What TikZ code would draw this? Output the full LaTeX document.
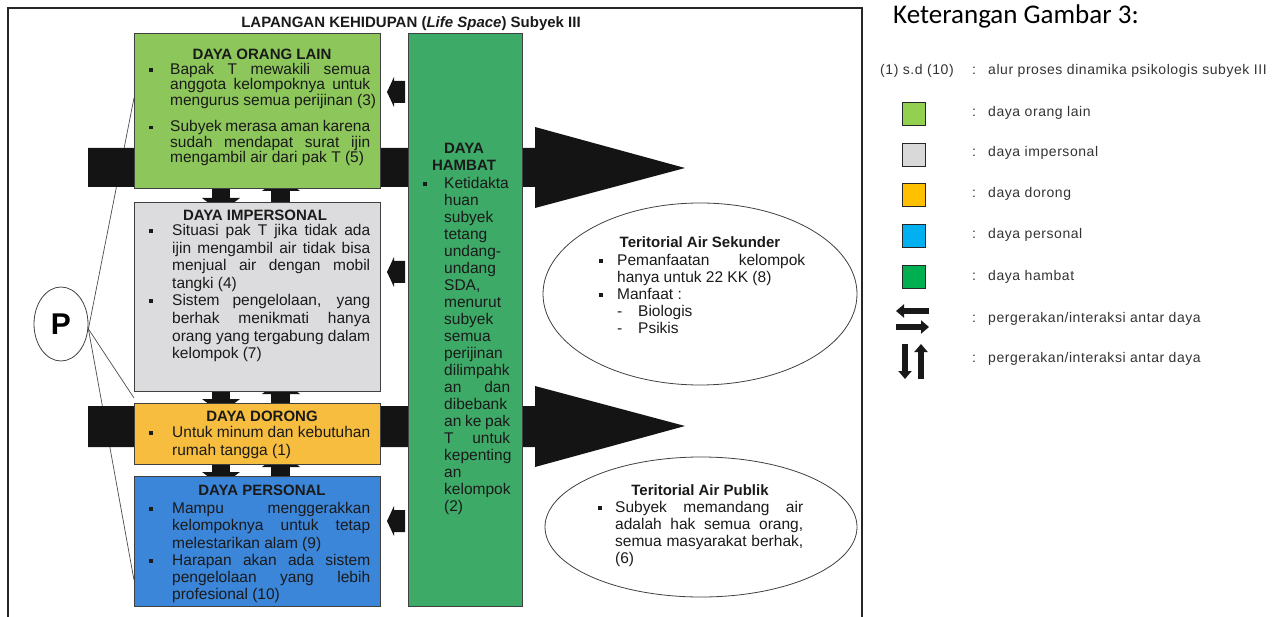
\documentclass[tikz,border=0pt]{standalone}
\usepackage{fontspec}
\setmainfont{Liberation Sans}
\newfontfamily\legfont{Carlito}
\usetikzlibrary{arrows.meta,shapes.geometric}
\definecolor{cOL}{HTML}{8DC75B}
\definecolor{cIM}{HTML}{DCDCDE}
\definecolor{cDO}{HTML}{F6BD3E}
\definecolor{cPE}{HTML}{3B86D9}
\definecolor{cHA}{HTML}{3DAA68}
\definecolor{lOL}{HTML}{92D050}
\definecolor{lIM}{HTML}{D9D9D9}
\definecolor{lDO}{HTML}{FFC000}
\definecolor{lPE}{HTML}{00B0F0}
\definecolor{lHA}{HTML}{00B050}
\definecolor{ink}{HTML}{1A1A1A}
\newlength\tw
\newlength\bw
\newcommand\bul{\makebox[\bw][l]{\rule[2.6pt]{3.8pt}{3.8pt}}}
\newcommand\ind{\makebox[\bw]{}}
\newcommand\Lb[1]{\bul\makebox[\tw][s]{#1}}
\newcommand\Lbl[1]{\bul\makebox[\tw][l]{#1}}
\newcommand\Lj[1]{\ind\makebox[\tw][s]{#1}}
\newcommand\Ll[1]{\ind\makebox[\tw][l]{#1}}
\pgfdeclarelayer{lines}
\pgfdeclarelayer{blocks}
\pgfsetlayers{lines,blocks,main}
\begin{document}
\begin{tikzpicture}[x=1pt,y=-1pt,
  box/.style={draw=black!75, line width=0.8pt, anchor=north west, inner sep=0pt},
  ttl/.style={font=\bfseries\fontsize{15}{17}\selectfont, inner sep=0pt, text=ink},
  body/.style={anchor=north west, inner sep=0pt, align=left, text=ink},
  blk/.style={fill=black!92},
  pline/.style={draw=black!70, line width=0.7pt},
  oval/.style={draw=black!75, line width=0.8pt, ellipse, inner sep=0pt},
  leg/.style={font=\fontsize{14}{16}\selectfont\addfontfeatures{LetterSpace=4}, text=black!80, anchor=base west, inner sep=0pt},
  colon/.style={font=\fontsize{14}{16}\selectfont, text=black!80, anchor=base, inner sep=0pt},
  swatch/.style={draw=black!85, line width=1.2pt, minimum size=23pt, inner sep=0pt},
  legarr/.style={line width=6pt, -{Triangle[length=8pt,width=13pt]}, black!90},
]
\useasboundingbox (0,0) rectangle (1273,617);
% frame
\draw[line width=1.3pt, black!85] (8,617) -- (8,8) -- (862,8) -- (862,617);
\node[ttl, anchor=base] (title) at (411,28) {LAPANGAN KEHIDUPAN (\textit{Life Space}) Subyek III};

% boxes
\node[box, fill=cOL, minimum width=246pt, minimum height=155pt] (ol) at (134,33) {};
\node[box, fill=cIM, minimum width=246pt, minimum height=189pt] (im) at (134,202) {};
\node[box, fill=cDO, minimum width=246pt, minimum height=61pt] (do) at (134,403) {};
\node[box, fill=cPE, minimum width=246pt, minimum height=130pt] (pe) at (134,476) {};
\node[box, fill=cHA, minimum width=114pt, minimum height=573pt] (ha) at (408,33) {};

% P and lines
\node[oval, minimum width=54pt, minimum height=74pt, font=\bfseries\fontsize{30}{30}\selectfont] (P) at (61,324) {P};
\begin{pgfonlayer}{lines}
\draw[pline] ([yshift=-5pt]P.east) -- ([yshift=-65pt]ol.north west);
\draw[pline] ([yshift=-5pt]P.east) -- ([yshift=5pt]do.north west);
\draw[pline] ([yshift=-5pt]P.east) -- ([yshift=-104pt]pe.north west);
\end{pgfonlayer}

% big arrows and small vertical arrows
\begin{pgfonlayer}{blocks}
\fill[blk] (88,148) -- (535,148) -- (535,127) -- (685,168) -- (535,208) -- (535,187) -- (88,187) -- cycle;
\fill[blk] (88,406) -- (535,406) -- (535,386) -- (685,426) -- (535,467) -- (535,447) -- (88,447) -- cycle;
\foreach \yb/\yt in {188/202,391/403,464/476}{
  \fill[blk] (212,{\yb-3}) rectangle (230,{\yt-4});
  \fill[blk] (202,{\yt-4}) -- (240,{\yt-4}) -- (221,{\yt+10}) -- cycle;
  \fill[blk] (271,{\yb+3}) rectangle (290,{\yt+3});
  \fill[blk] (262,{\yb+3}) -- (300,{\yb+3}) -- (280.5,{\yb-11}) -- cycle;
}
\end{pgfonlayer}

% small left arrows
\foreach \c in {92,272,521}{
  \fill[blk] (405,{\c-11}) -- (394,{\c-11}) -- (394,{\c-15}) -- (387,\c) -- (394,{\c+15}) -- (394,{\c+11}) -- (405,{\c+11}) -- cycle;
}

% ellipses
\node[oval, minimum width=314pt, minimum height=182pt] (sek) at (700,294) {};
\node[oval, minimum width=312pt, minimum height=140pt] (pub) at (701,527) {};

% titles
\node[ttl] (olT) at (262,54.5) {DAYA ORANG LAIN};
\node[ttl] (imT) at (255,215.5) {DAYA IMPERSONAL};
\node[ttl] (doT) at (262,416) {DAYA DORONG};
\node[ttl] (peT) at (262,490.5) {DAYA PERSONAL};
\node[ttl, align=center] (haT) at (464,156.5) {DAYA\\HAMBAT};
\node[ttl] (sekT) at (700,242.5) {Teritorial Air Sekunder};
\node[ttl] (pubT) at (700,490) {Teritorial Air Publik};

% bodies
\setlength\bw{21pt}\setlength\tw{200pt}
\node[body, font=\fontsize{15.5}{15.5}\selectfont] (olB) at (149,63) {%
\Lb{Bapak T mewakili semua}\\
\Lj{anggota kelompoknya untuk}\\
\Ll{mengurus semua perijinan (3)}\\[11pt]
\Lb{Subyek merasa aman karena}\\
\Lj{sudah mendapat surat ijin}\\
\Ll{mengambil air dari pak T (5)}};

\setlength\bw{23pt}\setlength\tw{198pt}
\node[body, font=\fontsize{15.5}{17.6}\selectfont] (imB) at (149,224) {%
\Lb{Situasi pak T jika tidak ada}\\
\Lj{ijin mengambil air tidak bisa}\\
\Lj{menjual air dengan mobil}\\
\Ll{tangki (4)}\\
\Lb{Sistem pengelolaan, yang}\\
\Lj{berhak menikmati hanya}\\
\Lj{orang yang tergabung dalam}\\
\Ll{kelompok (7)}};

\node[body, font=\fontsize{15.5}{18}\selectfont] (doB) at (149,426) {%
\Lb{Untuk minum dan kebutuhan}\\
\Ll{rumah tangga (1)}};

\node[body, font=\fontsize{15.5}{17.3}\selectfont] (peB) at (149,502) {%
\Lb{Mampu menggerakkan}\\
\Lj{kelompoknya untuk tetap}\\
\Ll{melestarikan alam (9)}\\
\Lb{Harapan akan ada sistem}\\
\Lj{pengelolaan yang lebih}\\
\Ll{profesional (10)}};

\setlength\bw{21pt}\setlength\tw{66pt}
\node[body, font=\fontsize{15.5}{17}\selectfont] (haB) at (423,177) {%
\Lbl{Ketidakta}\\
\Ll{huan}\\
\Ll{subyek}\\
\Ll{tetang}\\
\Ll{undang-}\\
\Ll{undang}\\
\Ll{SDA,}\\
\Ll{menurut}\\
\Ll{subyek}\\
\Ll{semua}\\
\Ll{perijinan}\\
\Ll{dilimpahk}\\
\Lj{an dan}\\
\Ll{dibebank}\\
\Lj{an ke pak}\\
\Lj{T untuk}\\
\Ll{kepenting}\\
\Ll{an}\\
\Ll{kelompok}\\
\Ll{(2)}};

\setlength\bw{18pt}\setlength\tw{188pt}
\node[body, font=\fontsize{15.5}{17}\selectfont] (sekB) at (599,254) {%
\Lb{Pemanfaatan kelompok}\\
\Ll{hanya untuk 22 KK (8)}\\
\Lbl{Manfaat :}\\
\ind\makebox[21pt][l]{-}Biologis\\
\ind\makebox[21pt][l]{-}Psikis};

\setlength\bw{17pt}\setlength\tw{188pt}
\node[body, font=\fontsize{15.5}{17}\selectfont] (pubB) at (598,501) {%
\Lb{Subyek memandang air}\\
\Lj{adalah hak semua orang,}\\
\Lj{semua masyarakat berhak,}\\
\Ll{(6)}};

% legend
\node[font=\legfont\fontsize{27}{30}\selectfont, anchor=base west, inner sep=0pt, text=black] (kt) at (893,23.5) {Keterangan Gambar 3:};
\node[leg] (l0) at (880,75) {(1) s.d (10)};
\node[colon] (c0) at (974,75) {:};
\node[leg] (t0) at (988,75) {alur proses dinamika psikologis subyek III};

\node[swatch, fill=lOL] (s1) at (914,114) {};
\node[colon] (c1) at (974,117) {:};
\node[leg] (t1) at (988,117) {daya orang lain};
\node[swatch, fill=lIM] (s2) at (914,155) {};
\node[colon] (c2) at (974,157) {:};
\node[leg] (t2) at (988,157) {daya impersonal};
\node[swatch, fill=lDO] (s3) at (914,195) {};
\node[colon] (c3) at (974,198) {:};
\node[leg] (t3) at (988,198) {daya dorong};
\node[swatch, fill=lPE] (s4) at (914,236) {};
\node[colon] (c4) at (974,239) {:};
\node[leg] (t4) at (988,239) {daya personal};
\node[swatch, fill=lHA] (s5) at (914,277) {};
\node[colon] (c5) at (974,281) {:};
\node[leg] (t5) at (988,281) {daya hambat};

\coordinate (h1a) at (929,311); \coordinate (h1b) at (896,311);
\coordinate (h2a) at (896,327); \coordinate (h2b) at (929,327);
\draw[legarr] (h1a) -- (h1b);
\draw[legarr] (h2a) -- (h2b);
\node[colon] (c6) at (974,322) {:};
\node[leg] (t6) at (988,322) {pergerakan/interaksi antar daya};

\coordinate (v1a) at (905,344); \coordinate (v1b) at (905,379);
\coordinate (v2a) at (921,379); \coordinate (v2b) at (921,344);
\draw[legarr] (v1a) -- (v1b);
\draw[legarr] (v2a) -- (v2b);
\node[colon] (c7) at (974,362) {:};
\node[leg] (t7) at (988,362) {pergerakan/interaksi antar daya};
\end{tikzpicture}
\end{document}
